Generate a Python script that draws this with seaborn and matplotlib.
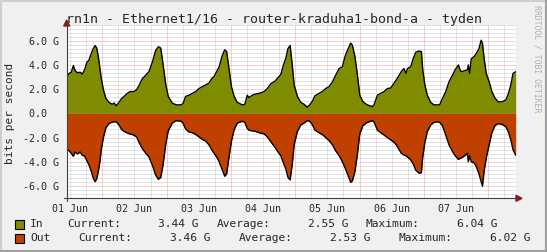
import numpy as np
import pandas as pd
import matplotlib
matplotlib.use("Agg")
import matplotlib.pyplot as plt
import seaborn as sns
from matplotlib.patches import Polygon, Rectangle
from matplotlib.lines import Line2D

sns.set_style("white")
plt.rcParams['font.family'] = ['DejaVu Sans Mono']

# ---------------- data (hours since 01 Jun 00:00, values in Gbit/s) ----------------
hours = [10.7, 11.6, 12.4, 13.2, 13.8, 14.7, 15.7, 16.5, 17.4, 18.2, 19.0, 19.9, 20.6, 21.3, 21.9,
         22.5, 23.1, 23.6, 24.4, 25.3, 26.5, 27.7, 28.4, 29.2, 30.2, 31.1, 32.1, 33.1, 34.3, 35.8,
         36.8, 37.7, 38.9, 40.2, 41.4, 42.7, 43.9, 44.9, 45.8, 46.7, 47.7, 48.6, 50.1, 51.6, 53.3,
         54.1, 55.1, 56.4, 57.6, 58.9, 60.1, 61.3, 62.6, 63.8, 64.8, 65.7, 66.8, 67.6, 68.8, 69.7,
         70.4, 71.3, 72.2, 73.2, 74.4, 76.3, 77.2, 78.1, 78.8, 80.0, 81.3, 82.5, 84.4, 85.6, 86.9,
         88.4, 89.6, 90.6, 91.6, 92.5, 93.3, 94.1, 94.9, 95.6, 96.8, 98.1, 99.3, 100.5, 101.4, 102.4,
         103.4, 104.9, 106.4, 107.4, 108.6, 109.9, 111.1, 112.4, 113.6, 114.6, 115.5, 116.7, 117.3, 118.3, 119.2,
         120.1, 121.3, 122.9, 124.8, 125.4, 126.7, 127.9, 129.2, 130.4, 131.7, 132.9, 133.7, 134.8, 135.6, 136.6,
         137.3, 137.9, 139.1, 140.1, 141.0, 142.2, 143.1, 143.6, 144.4, 145.3, 146.6, 147.8, 149.1, 149.9, 150.9,
         152.2, 153.4, 154.7, 155.7, 156.9, 157.8, 159.0, 160.3, 160.6, 161.1, 161.7, 162.8, 163.6, 164.6, 165.4,
         165.9, 166.5, 167.3, 168.4, 169.4, 170.6, 171.8, 173.1, 174.6, 175.6, 176.5, 177.3, 178.3]

in_gbps = [3.0, 3.3, 3.4, 3.95, 3.55, 3.35, 3.4, 3.25, 3.6, 4.2, 4.4, 4.95, 5.35, 5.6, 5.4,
           4.7, 3.7, 2.9, 1.95, 1.25, 0.9, 0.75, 0.85, 0.62, 0.9, 1.2, 1.4, 1.6, 1.8, 1.8,
           1.95, 2.3, 2.85, 3.15, 3.45, 4.25, 5.2, 5.5, 5.4, 4.0, 2.35, 1.4, 0.85, 0.7, 0.7,
           0.8, 1.4, 1.5, 1.65, 1.8, 2.05, 2.2, 2.35, 2.5, 2.85, 3.05, 3.5, 3.85, 4.8, 5.25,
           5.1, 3.7, 2.2, 1.4, 0.9, 0.7, 0.75, 1.5, 1.3, 1.5, 1.6, 1.65, 1.8, 2.05, 2.45,
           2.65, 2.95, 3.2, 4.0, 4.55, 5.35, 5.6, 4.0, 2.35, 1.4, 0.9, 0.75, 0.5, 0.7, 1.0,
           1.45, 1.65, 1.85, 2.05, 2.2, 2.6, 3.15, 3.7, 3.85, 4.7, 5.2, 5.8, 5.65, 4.7, 3.2,
           1.5, 0.95, 0.7, 0.55, 0.7, 1.5, 1.65, 1.8, 2.05, 2.1, 2.5, 2.75, 3.15, 3.45, 3.7,
           3.3, 3.7, 3.85, 4.55, 5.05, 5.15, 5.1, 3.6, 2.35, 1.5, 0.9, 0.7, 0.7, 0.7, 1.2,
           1.8, 2.6, 3.15, 3.6, 4.0, 3.45, 3.5, 3.6, 4.0, 3.3, 4.5, 4.7, 4.95, 5.35, 6.04,
           5.8, 4.55, 3.3, 2.6, 1.8, 1.25, 0.95, 0.95, 1.1, 1.65, 2.35, 3.3, 3.44]

out_gbps = [2.95, 3.1, 3.3, 3.55, 3.2, 3.35, 3.2, 3.45, 3.55, 3.9, 4.25, 4.8, 5.35, 5.65, 5.4,
            4.8, 4.0, 3.0, 2.0, 1.2, 0.85, 0.72, 0.7, 0.7, 0.95, 1.3, 1.5, 1.6, 1.7, 1.8,
            1.95, 2.4, 2.9, 3.3, 3.6, 4.3, 5.1, 5.45, 5.3, 4.2, 2.5, 1.45, 0.8, 0.6, 0.65,
            0.8, 1.3, 1.55, 1.6, 1.75, 1.95, 2.15, 2.3, 2.6, 3.0, 3.3, 3.65, 4.0, 4.7, 5.2,
            5.0, 3.6, 2.3, 1.35, 0.8, 0.65, 0.75, 1.25, 1.4, 1.45, 1.5, 1.6, 1.7, 1.95, 2.35,
            2.8, 3.2, 3.5, 4.1, 4.6, 5.3, 5.5, 4.2, 2.6, 1.5, 0.95, 0.8, 0.6, 0.65, 0.95,
            1.4, 1.6, 1.8, 2.0, 2.25, 2.6, 3.1, 3.5, 4.0, 4.5, 5.0, 5.7, 5.6, 4.8, 3.4,
            1.7, 1.0, 0.75, 0.6, 0.7, 1.4, 1.6, 1.8, 2.0, 2.2, 2.4, 2.6, 3.0, 3.3, 3.45,
            3.5, 3.6, 3.85, 4.2, 4.7, 4.95, 4.9, 3.6, 2.4, 1.5, 0.95, 0.75, 0.7, 0.75, 1.0,
            1.8, 2.6, 3.15, 3.5, 3.8, 3.7, 3.55, 3.3, 4.0, 3.5, 4.0, 4.1, 4.4, 5.0, 5.65,
            6.02, 4.8, 3.7, 2.6, 1.6, 1.0, 0.85, 0.9, 1.1, 1.55, 2.2, 3.0, 3.46]

day_labels = ["01 Jun", "02 Jun", "03 Jun", "04 Jun", "05 Jun", "06 Jun", "07 Jun"]
ytick_vals = [-6, -4, -2, 0, 2, 4, 6]
ytick_labels = ["-6.0 G", "-4.0 G", "-2.0 G", "0.0  ", "2.0 G", "4.0 G", "6.0 G"]

title = "rn1n - Ethernet1/16 - router-kraduha1-bond-a - tyden"
series_names = ["In", "Out"]
current_vals = ["3.44 G", "3.46 G"]
average_vals = ["2.55 G", "2.53 G"]
maximum_vals = ["6.04 G", "6.02 G"]

IN_COLOR = "#7F8C00"
OUT_COLOR = "#C04000"

# ---------------- figure ----------------
W, H = 547, 252
fig = plt.figure(figsize=(W / 100, H / 100), dpi=100, facecolor="#F0F0F0")

def fx(px):
    return px / W

def fy(py):
    return 1 - py / H

x0, x1 = 66.7, 515.7
ytop, ybot = 24.5, 198.3
ax = fig.add_axes([fx(x0), fy(ybot), fx(x1) - fx(x0), fy(ytop) - fy(ybot)])
ax.set_facecolor("white")

df = pd.DataFrame({"hours": hours, "In": in_gbps, "Out": [-v for v in out_gbps]})

# grid (below data)
for h in np.arange(12, 180, 6):
    if h % 24 == 0:
        continue
    ax.axvline(h, color="#C8C8C8", lw=0.72, dashes=(1, 1), zorder=0)
for h in np.arange(24, 180, 24):
    ax.axvline(h, color="#F0A0A0", lw=0.72, dashes=(1, 1), zorder=0.5)
for v in np.arange(-20, 23) / 3.0:
    if abs(round(v) - v) < 1e-6 and int(round(v)) % 2 == 0:
        continue
    ax.axhline(v, color="#C8C8C8", lw=0.72, dashes=(1, 1), zorder=0)
for v in ytick_vals:
    ax.axhline(v, color="#F0A0A0", lw=0.72, dashes=(1, 1), zorder=0.5)

ax.fill_between(df["hours"], 0, df["In"], color=IN_COLOR, lw=0, zorder=2)
ax.fill_between(df["hours"], 0, df["Out"], color=OUT_COLOR, lw=0, zorder=2)
sns.lineplot(data=df, x="hours", y="In", ax=ax, color="black", lw=1.0, zorder=3, estimator=None)
sns.lineplot(data=df, x="hours", y="Out", ax=ax, color="black", lw=1.0, zorder=3, estimator=None)

ax.set_xlim(hours[0], hours[-1])
ax.set_ylim(-7.02, 7.34)
ax.set_xlabel("")
ax.set_ylabel("")

for s in ax.spines.values():
    s.set_visible(False)

ax.set_xticks([12 + 24 * i for i in range(len(day_labels))])
ax.set_xticklabels(day_labels, fontsize=7.2)
ax.set_yticks(ytick_vals)
ax.set_yticklabels(ytick_labels, fontsize=7.2)
ax.tick_params(axis="x", length=0, pad=4)
ax.tick_params(axis="y", length=0, pad=5.3)
for lab in ax.get_yticklabels():
    lab.set_horizontalalignment("right")

# axes lines + arrows (figure pixel coords)
axis_col = "#404040"
arrow_col = "#8B1A1A"
fig.add_artist(Line2D([fx(x0), fx(x0)], [fy(201), fy(24)], color=axis_col, lw=0.8))
fig.add_artist(Line2D([fx(64), fx(517)], [fy(ybot), fy(ybot)], color=axis_col, lw=0.8))
fig.add_artist(Polygon([[fx(x0 - 3), fy(26)], [fx(x0 + 3), fy(26)], [fx(x0), fy(20)]],
                       closed=True, color=arrow_col, transform=fig.transFigure))
fig.add_artist(Polygon([[fx(516), fy(ybot - 3)], [fx(516), fy(ybot + 3)], [fx(522), fy(ybot)]],
                       closed=True, color=arrow_col, transform=fig.transFigure))

# title, y label, watermark
fig.text(fx(273.5), fy(19.5), title, ha="center", va="center", fontsize=9.5)
fig.text(fx(10), fy(113), "bits per second", rotation=90, ha="center", va="center", fontsize=8)
fig.text(fx(537.5), fy(59), "RRDTOOL / TOBI OETIKER", rotation=270, ha="center", va="center",
         fontsize=5.9, color="#B0B0B0")

# legend
rows = [224.3, 238.0]
colors = [IN_COLOR, OUT_COLOR]
cur_left = [67.7, 78.3]
cur_right = [199, 210]
avg_left = [216.7, 238.3]
avg_right = [348, 370]
max_left = [365.7, 398.3]
max_right = [497.7, 530]
for i, y in enumerate(rows):
    fig.add_artist(Rectangle((fx(15), fy(y + 4.5)), fx(9), 9 / H, facecolor=colors[i],
                             edgecolor="black", lw=0.8, transform=fig.transFigure))
    fs = 8.1
    fig.text(fx(30.2), fy(y), series_names[i], ha="left", va="center", fontsize=fs)
    fig.text(fx(cur_left[i]), fy(y), "Current:", ha="left", va="center", fontsize=fs)
    fig.text(fx(cur_right[i]), fy(y), current_vals[i], ha="right", va="center", fontsize=fs)
    fig.text(fx(avg_left[i]), fy(y), "Average:", ha="left", va="center", fontsize=fs)
    fig.text(fx(avg_right[i]), fy(y), average_vals[i], ha="right", va="center", fontsize=fs)
    fig.text(fx(max_left[i]), fy(y), "Maximum:", ha="left", va="center", fontsize=fs)
    fig.text(fx(max_right[i]), fy(y), maximum_vals[i], ha="right", va="center", fontsize=fs)

# 3D frame
fig.add_artist(Line2D([0, 1], [fy(0.5), fy(0.5)], color="#CFCFCF", lw=1.5))
fig.add_artist(Line2D([fx(0.5), fx(0.5)], [0, 1], color="#CFCFCF", lw=1.5))
fig.add_artist(Line2D([0, 1], [fy(251), fy(251)], color="#9E9E9E", lw=1.5))
fig.add_artist(Line2D([fx(546), fx(546)], [0, 1], color="#9E9E9E", lw=1.5))

fig.savefig("out.png", dpi=100, facecolor=fig.get_facecolor())
